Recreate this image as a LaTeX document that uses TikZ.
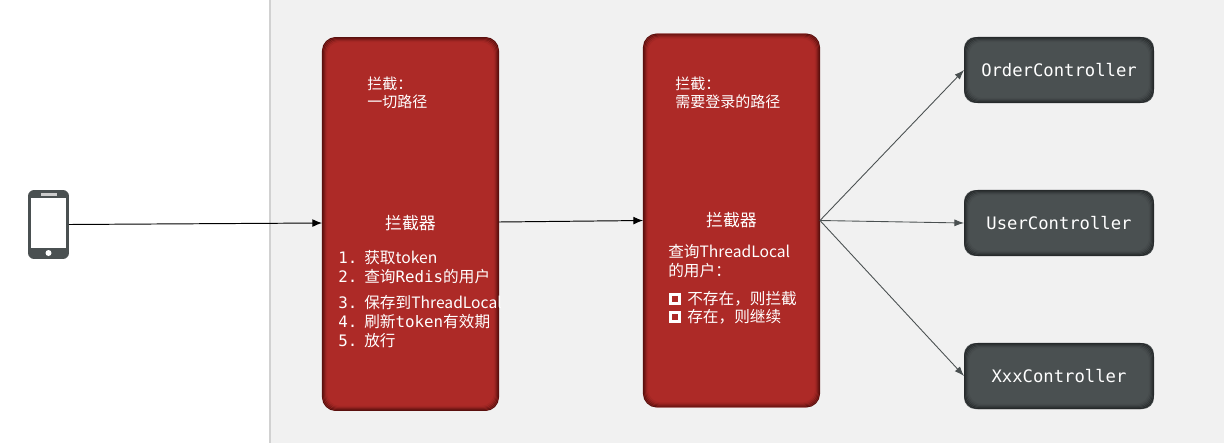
\documentclass[tikz,border=0pt]{standalone}
\usepackage{fontspec}
\setmainfont{Noto Sans CJK SC}
\setmonofont{DejaVu Sans Mono}
\usepackage{xcolor}
\usepackage{tikz}
\usetikzlibrary{arrows.meta,calc}
\definecolor{BoxRed}{HTML}{AD2A27}
\definecolor{BoxRedEdge}{HTML}{5A100E}
\definecolor{BoxGrey}{HTML}{4A5051}
\definecolor{BoxGreyEdge}{HTML}{26292B}
\definecolor{PanelGrey}{HTML}{F1F1F1}
\newcommand{\monosize}{\ttfamily\fontsize{9pt}{10.8pt}\selectfont}
\tikzset{
    filterbox/.style={fill=BoxRed,rounded corners=9pt,minimum width=3.54cm,minimum height=7.48cm,inner sep=0pt,outer sep=0pt},
    ctrlbox/.style={fill=BoxGrey,rounded corners=6.5pt,minimum width=3.8cm,minimum height=1.32cm,inner sep=0pt,outer sep=0pt,text=white,font=\ttfamily\fontsize{9.8pt}{11pt}\selectfont},
    phonebox/.style={fill=BoxGrey,rounded corners=3.5pt,minimum width=0.82cm,minimum height=1.38cm,inner sep=0pt,outer sep=0pt},
    headtext/.style={text=white,font=\fontsize{9.6pt}{11pt}\selectfont,inner sep=0pt},
    bodytext/.style={text=white,anchor=west,font=\fontsize{8.9pt}{10.8pt}\selectfont,inner sep=0pt},
    pathtext/.style={bodytext,font=\fontsize{8.55pt}{10.8pt}\selectfont},
    monotext/.style={bodytext,font=\monosize},
    tickbox/.style={draw=white,line width=1.5pt,minimum size=5pt,inner sep=0pt},
    blackarrow/.style={-{Latex[length=5.5pt,width=4.5pt]},black,line width=0.55pt},
    greyarrow/.style={-{Latex[length=5.5pt,width=4pt]},BoxGrey,line width=0.5pt},
}
% darker rim just inside a box
\newcommand{\rimshade}[3]{
    \foreach \i/\m in {0.5/100,1.5/80,2.5/55,3.5/30,4.5/12}
        \draw[line width=0.6pt,#3!\m!#2,rounded corners=7.5pt] ($(#1.north west)+(\i,\i)$) rectangle ($(#1.south east)-(\i,\i)$);
}
\begin{document}
\begin{tikzpicture}[x=0.02cm,y=-0.02cm]
    \path[fill=white,use as bounding box] (0,0) rectangle (1224,443);
    \fill[PanelGrey] (270,0) rectangle (1224,443);
    \draw[line width=0.7pt,black!18] (270,0) -- (270,443);

    \node[phonebox] (phone) at (48.5,224.5) {};
    \fill[white] (31,198) rectangle (66,248);
    \fill[black!20] (41,193) rectangle (57,195.5);
    \fill[white] (48.5,253) circle (3);

    \node[filterbox] (filter1) at (410.5,224) {};
    \node[filterbox] (filter2) at (731.5,220.5) {};
    \rimshade{filter1}{BoxRed}{BoxRedEdge}
    \rimshade{filter2}{BoxRed}{BoxRedEdge}

    \node[ctrlbox] (order) at (1059,70) {OrderController};
    \node[ctrlbox] (user) at (1059,223) {UserController};
    \node[ctrlbox] (xxx) at (1059,376) {XxxController};
    \rimshade{order}{BoxGrey}{BoxGreyEdge}
    \rimshade{user}{BoxGrey}{BoxGreyEdge}
    \rimshade{xxx}{BoxGrey}{BoxGreyEdge}

    \coordinate (in1) at ($(filter1.west)+(0,-1)$);
    \coordinate (out1) at ($(filter1.east)+(0,-2)$);
    \draw[blackarrow] (phone.east) -- (in1);
    \draw[blackarrow] (out1) -- (filter2.west);
    \draw[greyarrow] (filter2.east) -- (order.west);
    \draw[greyarrow] (filter2.east) -- (user.west);
    \draw[greyarrow] (filter2.east) -- (xxx.west);

    \node[pathtext] (path1a) at (367,84) {拦截^^^^ff1a};
    \node[pathtext] (path1b) at (367,102) {一切路径};
    \node[headtext] (title1) at (410.5,223) {拦截器};
    \node[monotext] (num1) at (338,258) {1.};
    \node[monotext] (num2) at (338,277) {2.};
    \node[monotext] (num3) at (338,303) {3.};
    \node[monotext] (num4) at (338,322) {4.};
    \node[monotext] (num5) at (338,341) {5.};
    \node[bodytext] (step1) at (364,258) {获取token};
    \node[bodytext] (step2) at (364,277) {查询{\monosize Redis}的用户};
    \begin{scope}
        \clip (360,290) rectangle (500,316);
        \node[bodytext] (step3) at (364,303) {保存到ThreadLocal};
    \end{scope}
    \node[bodytext] (step4) at (364,322) {刷新{\monosize token}有效期};
    \node[bodytext] (step5) at (364,341) {放行};

    \node[pathtext] (path2a) at (675,84) {拦截^^^^ff1a};
    \node[pathtext] (path2b) at (675,102) {需要登录的路径};
    \node[headtext] (title2) at (731.5,220) {拦截器};
    \node[bodytext] (query1) at (668,252) {查询ThreadLocal};
    \node[bodytext] (query2) at (668,271) {的用户^^^^ff1a};
    \node[tickbox] (tick1) at (675,299) {};
    \node[tickbox] (tick2) at (675,317) {};
    \node[bodytext] (case1) at (687,299) {不存在^^^^ff0c则拦截};
    \node[bodytext] (case2) at (687,317) {存在^^^^ff0c则继续};
\end{tikzpicture}
\end{document}
